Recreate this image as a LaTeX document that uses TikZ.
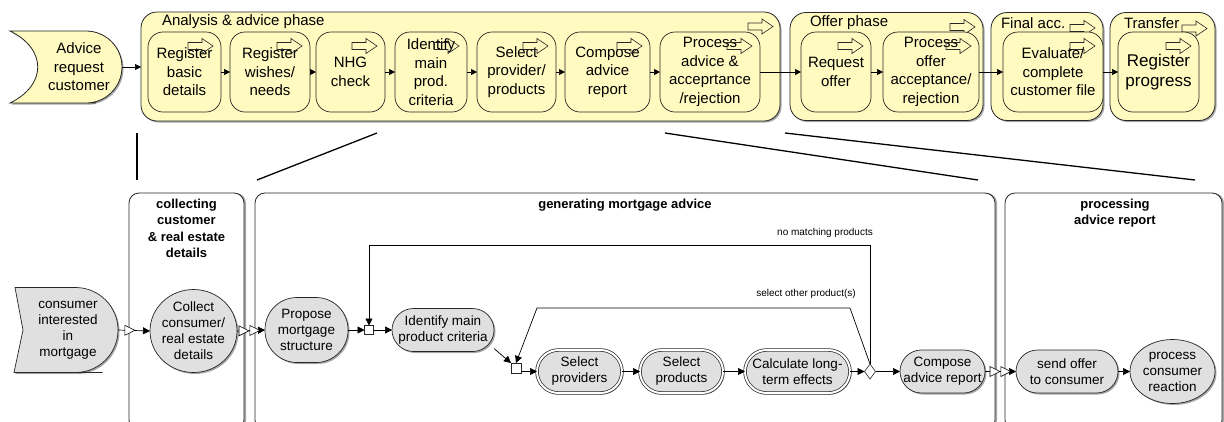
\documentclass[tikz,border=0pt]{standalone}
\usepackage{fontspec}
\setmainfont{Liberation Sans}
\usetikzlibrary{arrows.meta,shapes.geometric,shadows,calc}

\definecolor{phasefill}{RGB}{255,250,192}
\definecolor{actfill}{RGB}{224,224,224}
\definecolor{edge}{RGB}{38,38,38}

\tikzset{
  blockarrow/.pic={
    \draw[line width=0.6pt, draw=edge, line join=miter]
      (-25,-3.5) -- (-11,-3.5) -- (-11,-7.5) -- (0,0) -- (-11,7.5) -- (-11,3.5) -- (-25,3.5) -- cycle;
  }
}

\begin{document}
\begin{tikzpicture}[x=1pt,y=-1pt,
  every node/.style={inner sep=0pt, outer sep=0pt},
  softshadow/.style={drop shadow={shadow xshift=1.5pt,shadow yshift=-1.5pt,fill=black!35,opacity=1}},
  ttl/.style={font=\fontsize{15}{18.5}\selectfont},
  phasebox/.style={draw=edge, fill=phasefill, line width=0.8pt, rounded corners=16pt, softshadow},
  fnbox/.style={draw=edge, fill=phasefill, line width=0.7pt, rounded corners=15pt,
    minimum height=80pt, align=center, font=\fontsize{15}{18.5}\selectfont},
  act/.style={draw=edge, fill=actfill, line width=0.7pt, rounded corners=21.5pt,
    minimum height=43pt, align=center, font=\fontsize{13.5}{16}\selectfont, softshadow},
  subact/.style={act, double=white, double distance=2pt},
  actround/.style={ellipse, draw=edge, fill=actfill, line width=0.7pt, inner sep=-2pt,
    align=center, font=\fontsize{13.5}{16}\selectfont, softshadow},
  gate/.style={rectangle, draw=edge, fill=white, line width=0.6pt, minimum width=10pt, minimum height=10pt},
  xorgate/.style={diamond, draw=edge, fill=white, line width=0.6pt, minimum width=11pt, minimum height=15pt},
  lanebox/.style={draw=edge, fill=white, line width=0.8pt, rounded corners=10pt,
    drop shadow={shadow xshift=2pt,shadow yshift=0pt,fill=black!35,opacity=1}},
  lanetitle/.style={align=center, font=\fontsize{13}{16.5}\selectfont\bfseries},
  note/.style={font=\fontsize{10}{12}\selectfont},
  flow/.style={draw=black, line width=0.7pt, -{Triangle[length=7pt,width=7pt]}},
  tflow/.style={draw=black, line width=0.7pt, -{Triangle[length=6pt,width=6pt]}},
  opentri/.style={isosceles triangle, isosceles triangle stretches, draw=black, fill=white,
    line width=0.6pt, minimum width=10pt, minimum height=10pt},
  zoomline/.style={draw=black, line width=1.3pt}
]
\useasboundingbox (0,0) rectangle (1224,421);
\clip (0,0) rectangle (1224,421);

% ---------- swimlanes of the detailed process ----------
\node[lanebox, minimum width=115pt, minimum height=237pt] (lnA) at (186.5,311.5) {};
\node[lanebox, minimum width=740pt, minimum height=237pt] (lnB) at (625,311.5) {};
\node[lanebox, minimum width=217pt, minimum height=237pt] (lnC) at (1113.5,311.5) {};
\node[lanetitle, anchor=north] (lnAT) at (186.5,199) {collecting\\customer\\\& real estate\\details};
\node[lanetitle, anchor=north] (lnBT) at (625,199) {generating mortgage advice};
\node[lanetitle, anchor=north] (lnCT) at (1115,199) {processing\\advice report};

% ---------- lines linking the phases to the lanes ----------
\coordinate (zA1) at (137,133);  \coordinate (zA2) at (137,180);
\coordinate (zB1) at (377,133);  \coordinate (zB2) at (257,180);
\coordinate (zC1) at (665,133);  \coordinate (zC2) at (978,180);
\coordinate (zD1) at (785,133);  \coordinate (zD2) at (1195,180);
\draw[zoomline] (zA1) -- (zA2);
\draw[zoomline] (zB1) -- (zB2);
\draw[zoomline] (zC1) -- (zC2);
\draw[zoomline] (zD1) -- (zD2);

% ---------- phase overview ----------
\node[minimum width=112pt, minimum height=72pt] (adv) at (66,67) {};
\draw[draw=edge, fill=phasefill, line width=0.8pt, softshadow]
  (60,31) [rounded corners=36pt] -- (122,31) -- (122,103) -- (60,103) [sharp corners]
  -- (10,103) .. controls (47,85) and (47,49) .. (10,31) -- cycle;
\node[ttl, align=center] (advT) at (79,67) {Advice\\request\\customer};

\node[phasebox, minimum width=639pt, minimum height=109pt] (ana) at (460.5,66.5) {};
\node[phasebox, minimum width=193pt, minimum height=108pt] (off) at (886.5,66.5) {};
\node[phasebox, minimum width=112pt, minimum height=108pt] (fin) at (1047,66.5) {};
\node[phasebox, minimum width=105pt, minimum height=108pt] (tra) at (1162.5,66.5) {};

\node[ttl, anchor=west] (anaT) at (162,22) {Analysis \& advice phase};
\node[ttl, anchor=west] (offT) at (810,23) {Offer phase};
\node[ttl, anchor=west] (finT) at (1001,23) {Final acc.};
\node[ttl, anchor=west] (traT) at (1124,23) {Transfer};

\pic at ($(ana.north east)+(-7,14.5)$) {blockarrow};
\pic at ($(off.north east)+(-8,14.5)$) {blockarrow};
\pic at ($(fin.north east)+(-8,15.5)$) {blockarrow};
\pic at ($(tra.north east)+(-8,16)$) {blockarrow};

\node[fnbox, minimum width=73pt]  (rbd) at (184.5,72) {Register\\basic\\details};
\node[fnbox, minimum width=80pt]  (rwn) at (270,72)   {Register\\wishes/\\needs};
\node[fnbox, minimum width=69pt]  (nhg) at (350.5,72) {NHG\\check};
\node[fnbox, minimum width=72pt]  (imc) at (431,72)   {Identify\\main\\prod.\\criteria};
\node[fnbox, minimum width=79pt]  (spp) at (516.5,72) {Select\\provider/\\products};
\node[fnbox, minimum width=85pt]  (car) at (607.5,72) {Compose\\advice\\report};
\node[fnbox, minimum width=100pt] (paa) at (710,72)   {Process\\advice \&\\acceprtance\\/rejection};
\node[fnbox, minimum width=70pt]  (ro)  at (836,72)   {Request\\offer};
\node[fnbox, minimum width=96pt]  (poa) at (931,72)   {Process\\offer\\acceptance/\\rejection};
\node[fnbox, minimum width=100pt] (ev)  at (1053,72)  {Evaluate/\\complete\\customer file};
\node[fnbox, minimum width=81pt, font=\fontsize{17}{20}\selectfont] (rp) at (1158.5,72) {Register\\progress};

\foreach \b in {rbd,rwn,nhg,imc,spp,car,paa,ro,poa,ev,rp}
  \pic at ($(\b.north east)+(-8,14)$) {blockarrow};

\draw[tflow] (adv.east) -- (adv.east -| ana.west);
\draw[tflow] (rbd.east) -- (rwn.west);
\draw[tflow] (rwn.east) -- (nhg.west);
\draw[tflow] (nhg.east) -- (imc.west);
\draw[tflow] (imc.east) -- (spp.west);
\draw[tflow] (spp.east) -- (car.west);
\draw[tflow] (car.east) -- (paa.west);
\draw[tflow] (paa.east) -- (ro.west);
\draw[tflow] (ro.east)  -- (poa.west);
\draw[tflow] (poa.east) -- (ev.west);
\draw[tflow] (ev.east)  -- (rp.west);

% ---------- detailed process ----------
\node[minimum width=104pt, minimum height=85pt] (cons) at (66,330) {};
\draw[draw=edge, fill=actfill, line width=0.7pt, softshadow]
  (60,287.5) [rounded corners=42.5pt] -- (118,287.5) -- (118,372.5) -- (60,372.5) [sharp corners]
  -- (14,372.5) -- (23,330) -- (15,287.5) -- cycle;
\node[align=center, font=\fontsize{13.5}{16}\selectfont] (consT) at (68,330) {consumer\\interested\\in\\mortgage};

\node[actround, minimum width=87pt, minimum height=83pt] (collect) at (193.5,331) {Collect\\consumer/\\real estate\\details};
\node[act, minimum width=83pt, minimum height=65pt, rounded corners=32pt] (propose) at (306.5,330) {Propose\\mortgage\\structure};
\node[gate, minimum width=9pt, minimum height=9pt] (sq1) at (369,330) {};
\node[act, minimum width=102pt] (ident) at (443,330) {Identify main\\product criteria};
\node[gate] (sq2) at (516,368) {};
\node[subact, minimum width=85pt]  (sp1)  at (579.5,371.5) {Select\\providers};
\node[subact, minimum width=83pt]  (sp2)  at (681.5,371.5) {Select\\products};
\node[subact, minimum width=105pt] (calc) at (797.5,371.5) {Calculate long-\\term effects};
\node[xorgate] (dia) at (870,371.5) {};
\node[act, minimum width=85pt]  (comp) at (942.5,371.5) {Compose\\advice report};
\node[act, minimum width=102pt] (send) at (1067,371.5) {send offer\\to consumer};
\node[actround, minimum width=85pt, minimum height=64pt] (proc) at (1172.5,371.5) {process\\consumer\\reaction};

\draw[flow] (cons.east) -- (collect.west) node[opentri, pos=0.31] {};
\draw[flow] (collect.east) -- (propose.west) node[opentri, pos=0.18] {} node[opentri, pos=0.57] {};
\draw[flow] (propose.east) -- (sq1.west);
\draw[flow] (sq1.east) -- (ident.west);
\draw[flow] (ident.-20) -- (sq2.north west);
\draw[flow] (sq2.east |- sp1.west) -- (sp1.west);
\draw[flow] (sp1.east) -- (sp2.west);
\draw[flow] (sp2.east) -- (calc.west);
\draw[flow] (calc.east) -- (dia.west);
\draw[flow] (dia.east) -- (comp.west);
\draw[flow] (comp.east) -- (send.west) node[opentri, pos=0.26] {} node[opentri, pos=0.61] {};
\draw[flow] (send.east) -- (proc.west);

% loops back from the decision
\coordinate (nmY) at (0,245);
\draw[flow] (dia.north) -- (dia.north |- nmY) -| (sq1.north);
\node[note] (nmL) at (825,233) {no matching products};

\coordinate (soR) at (850,308);
\coordinate (soL) at (537,308);
\draw[flow] (dia.north) -- (soR) -- (soL) -- (sq2.north);
\node[note] (soLbl) at (806,294) {select other product(s)};
\end{tikzpicture}
\end{document}
